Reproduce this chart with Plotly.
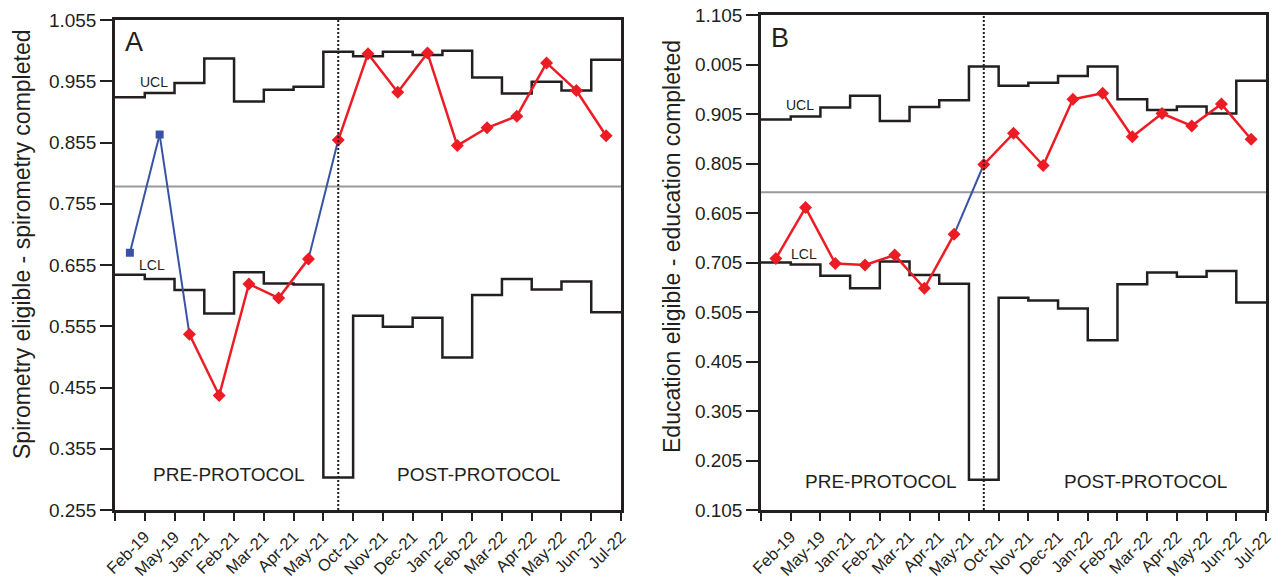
import plotly.graph_objects as go

W, H = 1281, 580

months = ["Feb-19", "May-19", "Jan-21", "Feb-21", "Mar-21", "Apr-21", "May-21",
          "Oct-21", "Nov-21", "Dec-21", "Jan-22", "Feb-22", "Mar-22", "Apr-22",
          "May-22", "Jun-22", "Jul-22"]

# Panel A: spirometry
a_values = [0.675, 0.868, 0.542, 0.442, 0.624, 0.601, 0.665, 0.859, 1.000, 0.937,
            1.001, 0.850, 0.879, 0.898, 0.985, 0.940, 0.866]
a_ucl = [0.929, 0.936, 0.952, 0.992, 0.922, 0.941, 0.946, 1.003, 0.996, 1.003,
         0.998, 1.005, 0.961, 0.935, 0.954, 0.940, 0.990]
a_lcl = [0.639, 0.632, 0.614, 0.576, 0.643, 0.625, 0.623, 0.308, 0.572, 0.554,
         0.569, 0.504, 0.606, 0.632, 0.615, 0.628, 0.578]
a_mean = 0.783
a_blue_segments = [0, 1, 6]      # segment i joins point i and i+1
a_blue_points = [0, 1]
a_yticks = [0.255, 0.355, 0.455, 0.555, 0.655, 0.755, 0.855, 0.955, 1.055]
a_yticktext = ["0.255", "0.355", "0.455", "0.555", "0.655", "0.755", "0.855", "0.955", "1.055"]

# Panel B: education
b_values = [0.613, 0.716, 0.603, 0.600, 0.620, 0.553, 0.662, 0.803, 0.866, 0.801,
            0.935, 0.947, 0.859, 0.906, 0.881, 0.925, 0.854]
b_ucl = [0.894, 0.900, 0.918, 0.942, 0.891, 0.919, 0.933, 1.001, 0.962, 0.968,
         0.982, 1.001, 0.935, 0.913, 0.920, 0.906, 0.972]
b_lcl = [0.605, 0.601, 0.578, 0.553, 0.607, 0.580, 0.562, 0.166, 0.534, 0.528,
         0.512, 0.448, 0.561, 0.585, 0.576, 0.588, 0.524]
b_mean = 0.747
b_blue_segments = [6]
b_blue_points = []
b_yticks = [0.105, 0.205, 0.305, 0.405, 0.505, 0.605, 0.705, 0.805, 0.905, 1.005, 1.105]
b_yticktext = ["0.105", "0.205", "0.305", "0.405", "0.505", "0.705", "0.605", "0.805", "0.905", "0.005", "1.105"]

protocol_change = 7.5

RED = "#ec1c24"
BLUE = "#3953a4"
BLACK = "#231f20"
GRAY = "#9a9a9a"
FONT = "Arial, Liberation Sans, sans-serif"

fig = go.Figure()


def add_panel(values, ucl, lcl, mean, blue_segs, blue_pts, xa, ya):
    n = len(values)
    xs = [i + 0.5 for i in range(n)]
    bounds = list(range(n + 1))
    # control limits (steps)
    for lim in (ucl, lcl):
        fig.add_trace(go.Scatter(x=bounds, y=lim + [lim[-1]], mode="lines",
                                 line=dict(color=BLACK, width=2.5, shape="hv"),
                                 xaxis=xa, yaxis=ya, hoverinfo="skip", showlegend=False))
    # centre line
    fig.add_trace(go.Scatter(x=[0, n], y=[mean, mean], mode="lines",
                             line=dict(color=GRAY, width=2),
                             xaxis=xa, yaxis=ya, hoverinfo="skip", showlegend=False))
    # data line segments
    for i in range(n - 1):
        c = BLUE if i in blue_segs else RED
        w = 2 if i in blue_segs else 2.5
        fig.add_trace(go.Scatter(x=xs[i:i + 2], y=values[i:i + 2], mode="lines",
                                 line=dict(color=c, width=w),
                                 xaxis=xa, yaxis=ya, hoverinfo="skip", showlegend=False))
    # markers
    fig.add_trace(go.Scatter(
        x=xs, y=values, mode="markers",
        marker=dict(symbol=["square" if i in blue_pts else "diamond" for i in range(n)],
                    color=[BLUE if i in blue_pts else RED for i in range(n)],
                    size=[8 if i in blue_pts else 10 for i in range(n)],
                    opacity=1, line=dict(width=0)),
        xaxis=xa, yaxis=ya, showlegend=False))


add_panel(a_values, a_ucl, a_lcl, a_mean, a_blue_segments, a_blue_points, "x", "y")
add_panel(b_values, b_ucl, b_lcl, b_mean, b_blue_segments, b_blue_points, "x2", "y2")


def px_x(p):
    return p / W


def px_y(p):
    return 1 - p / H


xtickvals = list(range(len(months) + 1))
xticktext = [""] + months

axis_common = dict(showline=True, linecolor=BLACK, linewidth=2.5, mirror=True,
                   showgrid=False, zeroline=False, ticks="outside", tickcolor=BLACK,
                   tickwidth=2, automargin=False)

xaxis_common = dict(axis_common, range=[0, len(months)], tickmode="array",
                    tickvals=xtickvals, ticktext=xticktext, tickangle=-45, ticklen=8,
                    tickfont=dict(family=FONT, size=16.5, color=BLACK))

fig.update_layout(
    width=W, height=H,
    margin=dict(l=0, r=0, t=0, b=0),
    paper_bgcolor="white", plot_bgcolor="white",
    showlegend=False,
    xaxis=dict(xaxis_common, domain=[px_x(115), px_x(621)], anchor="y"),
    yaxis=dict(axis_common, domain=[px_y(510), px_y(20)], anchor="x",
               range=[0.255, 1.055], tickmode="array", tickvals=a_yticks,
               ticktext=a_yticktext, ticklen=12,
               tickfont=dict(family=FONT, size=19, color=BLACK)),
    xaxis2=dict(xaxis_common, domain=[px_x(761), px_x(1266)], anchor="y2"),
    yaxis2=dict(axis_common, domain=[px_y(510), px_y(15)], anchor="x2",
                range=[0.105, 1.105], tickmode="array", tickvals=b_yticks,
                ticktext=b_yticktext, ticklen=12,
                tickfont=dict(family=FONT, size=19, color=BLACK)),
)

for xr, yr in (("x", "y"), ("x2", "y2")):
    fig.add_shape(type="line", xref=xr, yref=yr + " domain", x0=protocol_change,
                  x1=protocol_change, y0=0, y1=1,
                  line=dict(color=BLACK, width=2, dash="2px,2px"))


def label(text, x, y, size, angle=0):
    fig.add_annotation(text=text, x=px_x(x), y=px_y(y), xref="paper", yref="paper",
                       showarrow=False, xanchor="center", yanchor="middle",
                       textangle=angle, font=dict(family=FONT, size=size, color=BLACK))


label("A", 134, 42, 27)
label("B", 780, 38, 27)
label("UCL", 153.5, 82, 14)
label("LCL", 152, 265, 14)
label("UCL", 800, 105, 14)
label("LCL", 803.5, 254, 14)
label("PRE-PROTOCOL", 229, 474, 19)
label("POST-PROTOCOL", 478.5, 474, 19)
label("PRE-PROTOCOL", 881, 481, 19)
label("POST-PROTOCOL", 1145, 481, 19)
label("Spirometry eligible - spirometry completed", 22, 244, 23, -90)
label("Education eligible - education completed", 672, 247, 23, -90)

fig.write_html(
    "out.html",
    config={"displayModeBar": False},
    post_script="document.body.style.margin='0';document.body.style.overflow='hidden';",
)
